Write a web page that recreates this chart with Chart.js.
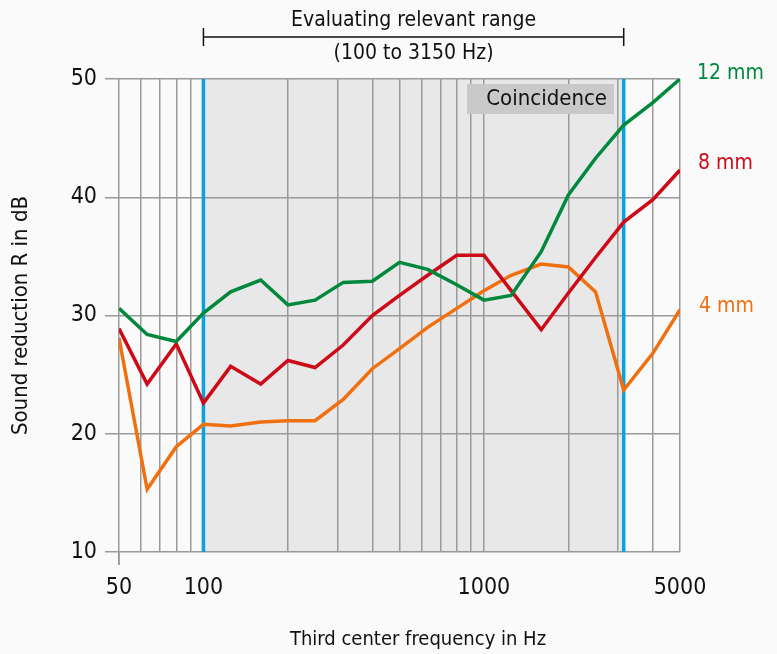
<!DOCTYPE html>
<html><head><meta charset="utf-8">
<script src="https://cdn.jsdelivr.net/npm/chart.js@4/dist/chart.umd.min.js"></script>
<style>html,body{margin:0;padding:0;background:#fafafa;}#wrap{width:777px;height:654px;}</style>
</head><body><div id="wrap"><canvas id="c" width="777" height="654"></canvas></div>
<script>
const frequencies = [50,63,80,100,125,160,200,250,315,400,500,630,800,1000,1250,1600,2000,2500,3150,4000,5000];
const r12mm = [30.6,28.4,27.8,30.2,32.0,33.0,30.9,31.3,32.8,32.9,34.5,33.9,32.6,31.3,31.7,35.4,40.2,43.3,46.1,48.0,50.0];
const r8mm  = [28.9,24.2,27.6,22.6,25.7,24.2,26.2,25.6,27.5,30.0,31.7,33.4,35.1,35.1,32.1,28.8,31.9,34.9,37.9,39.8,42.3];
const r4mm  = [28.1,15.3,18.9,20.8,20.65,21.0,21.1,21.1,22.9,25.5,27.2,29.0,30.6,32.1,33.4,34.35,34.1,32.0,23.7,26.8,30.5];
const xGridValues = [50,60,70,80,90,100,200,300,400,500,600,700,800,900,1000,2000,3000,4000,5000];
const xTickLabels = [50,100,1000,5000];
const yTicks = [10,20,30,40,50];
const rangeStart = 100, rangeEnd = 3150;

const FONT = "'DejaVu Sans Condensed','Liberation Sans Narrow',sans-serif";
const GRID = '#9a9a9a';
const C12 = '#00883c', C8 = '#cc0a18', C4 = '#f07010', BLUE = '#0aa0e2';

const pts = arr => frequencies.map((f,i)=>({x:f,y:arr[i]}));

const deco = {
  id:'deco',
  beforeDraw(chart){
    const {ctx, chartArea:a, scales:{x,y}} = chart;
    ctx.save();
    ctx.fillStyle='#fafafa'; ctx.fillRect(0,0,chart.width,chart.height);
    const x1=x.getPixelForValue(rangeStart), x2=x.getPixelForValue(rangeEnd);
    ctx.fillStyle='#e8e8e8'; ctx.fillRect(x1,a.top,x2-x1,a.bottom-a.top);
    ctx.restore();
  },
  beforeDatasetsDraw(chart){
    const {ctx, chartArea:a, scales:{x,y}} = chart;
    const x1=x.getPixelForValue(rangeStart), x2=x.getPixelForValue(rangeEnd);
    ctx.save();
    ctx.strokeStyle=GRID; ctx.lineWidth=1.5;
    ctx.beginPath(); ctx.moveTo(a.left,a.bottom); ctx.lineTo(a.left,a.bottom+13); ctx.stroke();
    ctx.strokeStyle=BLUE; ctx.lineWidth=3.5;
    [x1,x2].forEach(px=>{ctx.beginPath();ctx.moveTo(px,a.top);ctx.lineTo(px,a.bottom);ctx.stroke();});
    ctx.fillStyle='#c9c9c9'; ctx.fillRect(467,84,147,30);
    ctx.fillStyle='#111'; ctx.font='22px '+FONT; ctx.textAlign='right'; ctx.textBaseline='middle';
    ctx.fillText('Coincidence',607,99);
    ctx.restore();
  },
  afterDraw(chart){
    const {ctx, chartArea:a, scales:{x,y}} = chart;
    const x1=x.getPixelForValue(rangeStart), x2=x.getPixelForValue(rangeEnd);
    ctx.save();
    ctx.strokeStyle='#111'; ctx.lineWidth=1.5;
    ctx.beginPath(); ctx.moveTo(x1,37); ctx.lineTo(x2,37);
    ctx.moveTo(x1,28); ctx.lineTo(x1,46); ctx.moveTo(x2,28); ctx.lineTo(x2,46); ctx.stroke();
    ctx.fillStyle='#111'; ctx.font='21px '+FONT; ctx.textAlign='center'; ctx.textBaseline='middle';
    ctx.fillText('Evaluating relevant range',(x1+x2)/2,21);
    ctx.fillText('(100 to 3150 Hz)',(x1+x2)/2,54);
    ctx.font='20px '+FONT;
    ctx.fillText('Third center frequency in Hz',418,640);
    ctx.font='21px '+FONT;
    ctx.textAlign='left';
    ctx.fillStyle=C12; ctx.fillText('12 mm',697,74);
    ctx.fillStyle=C8; ctx.fillText('8 mm',698,164);
    ctx.fillStyle=C4; ctx.fillText('4 mm',699,307);
    ctx.restore();
  }
};

new Chart(document.getElementById('c'),{
  type:'line',
  data:{datasets:[
    {label:'12 mm',data:pts(r12mm),borderColor:C12},
    {label:'8 mm',data:pts(r8mm),borderColor:C8},
    {label:'4 mm',data:pts(r4mm),borderColor:C4}
  ]},
  options:{
    responsive:false,animation:false,
    layout:{padding:{top:79,right:97,left:0,bottom:0}},
    elements:{line:{borderWidth:3.5,tension:0},point:{radius:0}},
    plugins:{legend:{display:false},tooltip:{enabled:false}},
    scales:{
      x:{type:'logarithmic',min:50,max:5000,
        afterFit(s){s.height=102;},
        afterBuildTicks(s){s.ticks=xGridValues.map(v=>({value:v}));},
        border:{display:false},
        grid:{color:GRID,lineWidth:1.5,tickLength:13,
          tickColor:c=>(c.tick&&c.tick.value===50)?GRID:'rgba(0,0,0,0)'},
        ticks:{autoSkip:false,maxRotation:0,padding:9,color:'#111',font:{family:FONT,size:23},
          callback:(v)=>xTickLabels.includes(v)?String(v):''}
      },
      y:{min:10,max:50,
        afterFit(s){s.width=119;},
        afterBuildTicks(s){s.ticks=yTicks.map(v=>({value:v}));},
        border:{display:false},
        grid:{color:GRID,lineWidth:1.5,tickLength:14},
        ticks:{padding:8,color:'#111',font:{family:FONT,size:23}},
        title:{display:true,text:'Sound reduction R in dB',color:'#111',font:{family:FONT,size:22},padding:{top:8,bottom:0}}
      }
    }
  },
  plugins:[deco]
});
</script></body></html>
